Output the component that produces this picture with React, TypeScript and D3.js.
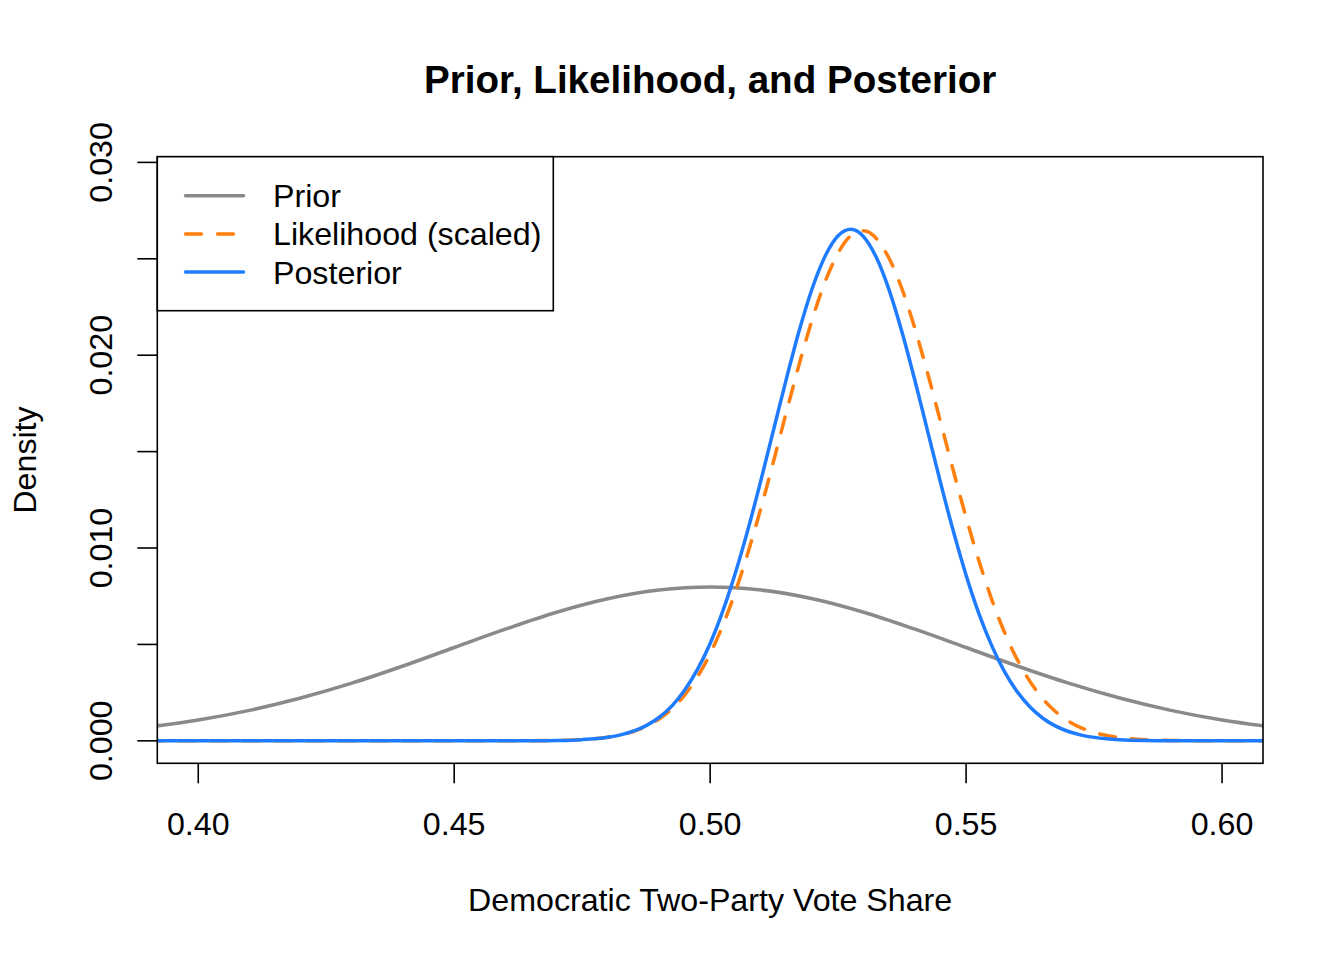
import React, { useEffect, useRef } from 'react';
import * as d3 from 'd3';

// values
const priorX = [0.39, 0.40, 0.41, 0.42, 0.43, 0.44, 0.45, 0.46, 0.47, 0.48, 0.49, 0.50,
  0.51, 0.52, 0.53, 0.54, 0.55, 0.56, 0.57, 0.58, 0.59, 0.60, 0.61];
const priorY = [0.000709, 0.00108, 0.00158, 0.00222, 0.00299, 0.00388, 0.00484, 0.00579,
  0.00667, 0.00737, 0.00782, 0.00798, 0.00782, 0.00737, 0.00667, 0.00579, 0.00484,
  0.00388, 0.00299, 0.00222, 0.00158, 0.00108, 0.000709];

const gridX = [0.39, 0.40, 0.41, 0.42, 0.43, 0.44, 0.45, 0.46, 0.465, 0.47, 0.475,
  0.48, 0.4825, 0.485, 0.4875, 0.49, 0.4925, 0.495, 0.4975, 0.50, 0.5025, 0.505, 0.5075,
  0.51, 0.5125, 0.515, 0.5175, 0.52, 0.5225, 0.525, 0.5275, 0.53, 0.5325, 0.535, 0.5375,
  0.54, 0.5425, 0.545, 0.5475, 0.55, 0.5525, 0.555, 0.5575, 0.56, 0.5625, 0.565, 0.5675,
  0.57, 0.5725, 0.575, 0.5775, 0.58, 0.585, 0.59, 0.60, 0.61];

const likelihoodY = [0, 0, 0, 0, 0, 0, 0, 0.000002, 0.000006, 0.000021, 0.000066,
  0.000188, 0.000305, 0.000484, 0.000747, 0.00113, 0.00166, 0.00237, 0.00331, 0.00452,
  0.00601, 0.00779, 0.00986, 0.01215, 0.01462, 0.01716, 0.01963, 0.02191, 0.02384,
  0.02530, 0.02620, 0.02645, 0.02604, 0.02500, 0.02342, 0.02138, 0.01905, 0.01655,
  0.01402, 0.01159, 0.00934, 0.00734, 0.00563, 0.00421, 0.00307, 0.00218, 0.00151,
  0.00102, 0.000674, 0.000434, 0.000272, 0.000167, 0.000058, 0.000018, 0.000001, 0];

const posteriorY = [0, 0, 0, 0, 0, 0, 0, 0.000001, 0.000005, 0.000018, 0.000062,
  0.000186, 0.000310, 0.000502, 0.000790, 0.00121, 0.00180, 0.00262, 0.00369, 0.00505,
  0.00675, 0.00877, 0.01107, 0.01360, 0.01625, 0.01889, 0.02137, 0.02351, 0.02516,
  0.02620, 0.02653, 0.02614, 0.02505, 0.02335, 0.02118, 0.01869, 0.01604, 0.01339,
  0.01088, 0.00859, 0.00660, 0.00494, 0.00359, 0.00254, 0.00175, 0.00117, 0.000762,
  0.000483, 0.000298, 0.000179, 0.000104, 0.000059, 0.000018, 0.000005, 0, 0];

const xTicks = [0.40, 0.45, 0.50, 0.55, 0.60];
const yTicks = [0, 0.005, 0.010, 0.015, 0.020, 0.025, 0.030];
const yLabels = [0, 0.010, 0.020, 0.030];

const legendItems = [
  { label: 'Prior', color: '#8a8a8a', dash: null },
  { label: 'Likelihood (scaled)', color: '#ff7f0e', dash: '16,16' },
  { label: 'Posterior', color: '#1f7bff', dash: null },
];

const FONT = '"Liberation Sans", Arial, Helvetica, sans-serif';
const FS = 32.2;

export default function App() {
  const svgRef = useRef<SVGSVGElement>(null);

  useEffect(() => {
    if (!svgRef.current) return;

    const width = 1344;
    const height = 960;
    const left = 157.3, right = 1263, top = 156.7, bottom = 763.3;

    const svg = d3.select(svgRef.current)
      .attr('width', width)
      .attr('height', height);
    svg.selectAll('*').remove();

    // R style 4% axis extension
    const xlim = [0.4, 0.6];
    const ylim = [0, 0.02913];
    const xr = xlim[1] - xlim[0];
    const yr = ylim[1] - ylim[0];
    const x = d3.scaleLinear()
      .domain([xlim[0] - 0.04 * xr, xlim[1] + 0.04 * xr])
      .range([left, right]);
    const y = d3.scaleLinear()
      .domain([ylim[0] - 0.04 * yr, ylim[1] + 0.04 * yr])
      .range([bottom, top]);

    svg.append('defs').append('clipPath').attr('id', 'plot-clip')
      .append('rect')
      .attr('x', left).attr('y', top)
      .attr('width', right - left).attr('height', bottom - top);

    const line = d3.line<[number, number]>()
      .x(d => x(d[0]))
      .y(d => y(d[1]))
      .curve(d3.curveMonotoneX);

    const curves = svg.append('g').attr('clip-path', 'url(#plot-clip)');
    const series: [number[], number[], typeof legendItems[number]][] = [
      [priorX, priorY, legendItems[0]],
      [gridX, likelihoodY, legendItems[1]],
      [gridX, posteriorY, legendItems[2]],
    ];
    series.forEach(([xs, ys, item]) => {
      curves.append('path')
        .datum(xs.map((v, i) => [v, ys[i]] as [number, number]))
        .attr('fill', 'none')
        .attr('stroke', item.color)
        .attr('stroke-width', 3.5)
        .attr('stroke-linecap', 'round')
        .attr('stroke-linejoin', 'round')
        .attr('stroke-dasharray', item.dash)
        .attr('d', line);
    });

    // plot box
    svg.append('rect')
      .attr('x', left).attr('y', top)
      .attr('width', right - left).attr('height', bottom - top)
      .attr('fill', 'none').attr('stroke', '#000').attr('stroke-width', 1.6);

    // x axis
    const gx = svg.append('g');
    xTicks.forEach(t => {
      gx.append('line')
        .attr('x1', x(t)).attr('x2', x(t))
        .attr('y1', bottom).attr('y2', bottom + 20)
        .attr('stroke', '#000').attr('stroke-width', 1.6);
      gx.append('text')
        .attr('x', x(t)).attr('y', 834.5)
        .attr('text-anchor', 'middle')
        .attr('font-family', FONT).attr('font-size', FS)
        .text(d3.format('.2f')(t));
    });

    // y axis
    const gy = svg.append('g');
    yTicks.forEach(t => {
      gy.append('line')
        .attr('x1', left - 20).attr('x2', left)
        .attr('y1', y(t)).attr('y2', y(t))
        .attr('stroke', '#000').attr('stroke-width', 1.6);
    });
    yLabels.forEach(t => {
      gy.append('text')
        .attr('transform', `translate(111.5, ${y(t)}) rotate(-90)`)
        .attr('text-anchor', 'middle')
        .attr('font-family', FONT).attr('font-size', FS)
        .text(d3.format('.3f')(t));
    });

    // titles
    svg.append('text')
      .attr('x', (left + right) / 2).attr('y', 92.5)
      .attr('text-anchor', 'middle')
      .attr('font-family', FONT).attr('font-size', 38.6).attr('font-weight', 'bold')
      .text('Prior, Likelihood, and Posterior');
    svg.append('text')
      .attr('x', (left + right) / 2).attr('y', 911)
      .attr('text-anchor', 'middle')
      .attr('font-family', FONT).attr('font-size', FS)
      .text('Democratic Two-Party Vote Share');
    svg.append('text')
      .attr('transform', `translate(35.5, ${(top + bottom) / 2}) rotate(-90)`)
      .attr('text-anchor', 'middle')
      .attr('font-family', FONT).attr('font-size', FS)
      .text('Density');

    // legend
    const lg = svg.append('g');
    lg.append('rect')
      .attr('x', left).attr('y', top)
      .attr('width', 553.3 - left).attr('height', 310.7 - top)
      .attr('fill', '#fff').attr('stroke', '#000').attr('stroke-width', 1.6);
    legendItems.forEach((item, i) => {
      const ly = 195.7 + i * 38.2;
      lg.append('line')
        .attr('x1', 185.5).attr('x2', 243.5)
        .attr('y1', ly).attr('y2', ly)
        .attr('stroke', item.color)
        .attr('stroke-width', 3.5)
        .attr('stroke-linecap', 'round')
        .attr('stroke-dasharray', item.dash);
      lg.append('text')
        .attr('x', 273).attr('y', ly + 11.5)
        .attr('font-family', FONT).attr('font-size', FS)
        .text(item.label);
    });
  }, []);

  return (
    <svg ref={svgRef} style={{ position: 'absolute', left: 0, top: 0, background: '#fff' }} />
  );
}
